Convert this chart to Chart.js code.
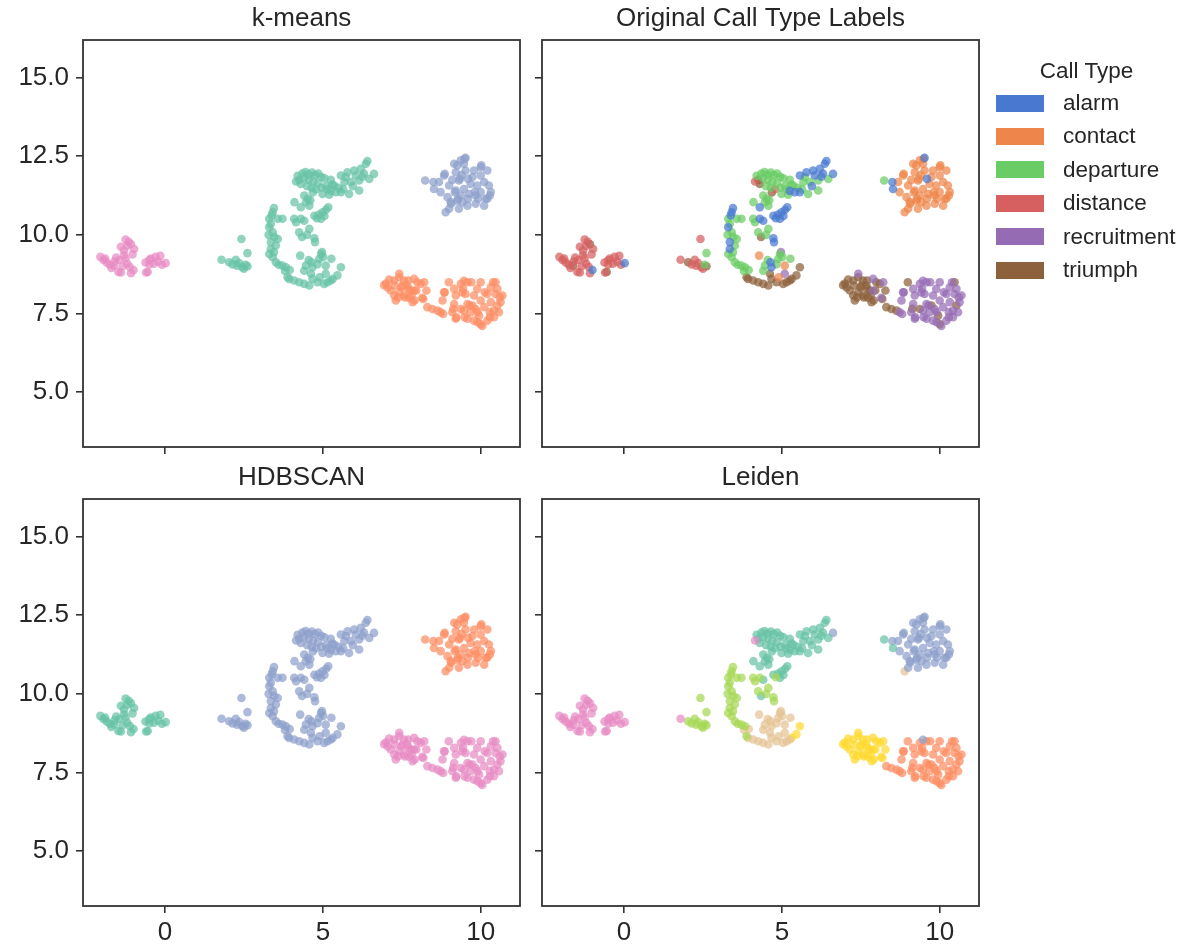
<!DOCTYPE html>
<html>
<head>
<meta charset="utf-8">
<script src="https://cdn.jsdelivr.net/npm/chart.js@4/dist/chart.umd.min.js"></script>
<style>
  body { margin: 0; width: 1188px; height: 952px; overflow: hidden; background: #fff; font-family: "Liberation Sans", Arial, sans-serif; }
  .panel { position: absolute; }
  #legend { position: absolute; left: 985px; top: 0; width: 203px; height: 300px; color: #262626; font-size: 22.5px; }
  #legend div { position: absolute; line-height: 26px; white-space: nowrap; }
</style>
</head>
<body>
<div class="panel" style="left:0;top:0"><canvas id="c0" width="530" height="492"></canvas></div>
<div class="panel" style="left:459px;top:0"><canvas id="c1" width="530" height="492"></canvas></div>
<div class="panel" style="left:0;top:459px"><canvas id="c2" width="530" height="492"></canvas></div>
<div class="panel" style="left:459px;top:459px"><canvas id="c3" width="530" height="492"></canvas></div>
<div id="legend"></div>
<script>
const callTypes = ["alarm", "contact", "departure", "distance", "recruitment", "triumph"];
const callCodes = ["a", "c", "d", "s", "r", "t"];
const callColors = ["#4878d0", "#ee854a", "#6acc64", "#d65f5f", "#956cb4", "#8c613c"];
const clusterColors = { teal: "#66c2a5", orange: "#fc8d62", blue: "#8da0cb", pink: "#e78ac3", lime: "#a6d854", yellow: "#ffd92f", tan: "#e5c494" };
const xTicks = [0, 5, 10];
const yTicks = [5.0, 7.5, 10.0, 12.5, 15.0];
const titles = ["k-means", "Original Call Type Labels", "HDBSCAN", "Leiden"];

// points: [x, y, call type code, leiden colour when it differs from the group]
const leftBlob = [
  [-2.05,9.30,"s"],[-1.95,9.20,"s"],[-1.90,9.25,"s"],[-1.85,9.12,"s"],[-1.75,9.05,"s"],[-1.70,8.95,"s"],
  [-1.62,9.02,"t"],[-1.60,9.15,"s"],[-1.55,9.28,"s"],[-1.48,8.82,"s"],[-1.45,9.20,"s"],[-1.40,9.62,"s"],
  [-1.40,8.80,"s"],[-1.35,9.00,"s"],[-1.30,9.50,"s"],[-1.30,9.35,"s"],[-1.25,9.85,"s"],[-1.25,9.25,"s"],
  [-1.20,9.65,"s"],[-1.20,9.08,"s"],[-1.15,9.78,"s"],[-1.12,8.98,"s"],[-1.08,9.70,"t"],[-1.08,8.78,"s"],
  [-1.03,9.38,"s"],[-1.00,8.88,"a"],[-0.98,9.55,"s"],[-0.62,9.12,"s"],[-0.60,8.80,"s"],[-0.55,8.82,"t"],
  [-0.50,9.20,"s"],[-0.50,9.06,"s"],[-0.45,9.25,"s"],[-0.35,9.08,"s"],[-0.30,9.30,"s"],[-0.22,9.15,"s"],
  [-0.15,9.33,"s"],[-0.10,9.05,"s"],[0.02,9.10,"a"]
];
const smallBlob = [
  [1.79,9.21,"s","pink"],[2.42,9.87,"s"],[2.61,9.42,"d"],[2.03,9.13,"t"],[2.24,9.21,"s"],[2.28,9.02,"s"],
  [2.45,8.97,"s"],[2.61,9.00,"t"],[2.14,9.06,"s"],[2.50,8.92,"s"],[2.35,9.10,"s"],[2.55,9.05,"d"]
];
const upperArm = [
  [4.15,11.70,"s","pink"],[4.25,11.75,"t"],[4.20,11.88,"d"],[4.35,11.95,"d"],[4.45,12.00,"d"],[4.55,11.92,"d"],
  [4.65,11.98,"d"],[4.75,11.90,"d"],[4.85,11.95,"d"],[4.95,11.85,"d"],[5.05,11.80,"d"],[4.40,11.80,"d"],
  [4.55,11.75,"d"],[4.70,11.70,"d"],[4.85,11.65,"d"],[4.30,11.62,"t"],[4.50,11.55,"d"],[4.65,11.50,"d"],
  [4.78,11.45,"s"],[4.68,11.35,"t"],[4.95,11.50,"d"],[5.15,11.45,"d"],[5.30,11.60,"d"],[5.25,11.75,"d"],
  [5.20,11.28,"d"],[4.99,11.30,"d"],[4.41,11.25,"d"],[4.52,11.15,"d"],[4.46,11.04,"d"],[4.10,11.04,"d"],
  [4.30,10.88,"a"],[4.57,10.93,"d"],[4.60,11.10,"d"],
  [5.36,11.57,"d"],[5.41,11.36,"a"],[5.57,11.36,"a"],[5.57,11.89,"a"],[5.68,11.68,"d"],[5.73,11.84,"d"],
  [5.78,11.99,"a"],[5.83,11.30,"d"],[5.89,11.68,"d"],[5.99,12.05,"a"],[6.04,11.89,"a"],[6.15,11.73,"d"],
  [6.15,11.41,"d"],[6.20,12.10,"a"],[6.30,11.95,"a"],[6.36,12.26,"a"],[6.41,12.35,"a"],[6.47,11.78,"d"],
  [6.62,11.94,"a","blue"],[5.50,11.50,"d"],[5.95,11.55,"a"],[6.25,11.85,"a"],[5.64,11.45,"d"],[5.10,11.55,"d"],
  [5.25,11.40,"a"],
  [4.73,10.61,"a"],[4.81,10.53,"a","lime"],[4.94,10.51,"a"],[4.99,10.72,"a"],[5.10,10.80,"a"],[5.17,10.88,"a"],
  [5.05,10.60,"a"],[4.88,10.65,"a"],[4.41,10.45,"a"],[4.34,9.93,"t"]
];
const leftArc = [
  [3.41,10.72,"a"],[3.30,10.51,"d"],[3.38,10.62,"a"],[3.30,10.24,"a"],[3.35,10.35,"d"],[3.41,10.08,"d"],
  [3.46,9.93,"d"],[3.35,9.77,"a"],[3.51,9.66,"d"],[3.35,9.55,"a"],[3.30,9.39,"d"],[3.41,9.29,"d"],
  [3.51,9.13,"d"],[3.45,9.45,"d"],[3.57,10.51,"d"],[3.72,10.51,"d"],[3.57,9.87,"d"],[3.60,9.05,"d"],
  [3.72,9.02,"d"],[3.83,8.97,"d"],[4.09,10.51,"d"],[4.15,10.40,"d"],[4.30,10.51,"a"],[4.25,10.08,"d"],
  [4.57,10.19,"d"],[4.73,9.89,"a"],[4.75,9.77,"a"],[4.50,10.00,"d"],[3.88,8.65,"t"],[3.45,10.85,"a"],
  [3.28,10.00,"d"]
];
const lowerArc = [
  [4.28,9.34,"c"],[4.94,9.39,"d"],[4.97,9.45,"r"],[4.88,9.23,"d"],[4.64,9.13,"a"],[4.46,9.02,"d"],
  [5.09,9.02,"c"],[4.67,8.97,"a"],[4.83,9.07,"d"],[4.41,8.86,"d"],[3.93,8.60,"t"],[4.09,8.55,"t"],
  [4.25,8.49,"t"],[4.41,8.44,"t"],[4.57,8.39,"t"],[4.67,8.60,"t"],[4.62,8.76,"t"],[4.83,8.49,"t"],
  [5.04,8.44,"t"],[5.15,8.49,"t"],[5.09,8.76,"r"],[4.90,8.65,"c"],[5.25,8.55,"t"],[3.80,8.85,"d"],
  [3.95,8.88,"d"],[5.01,9.30,"d"],[4.55,9.20,"d"],[5.27,9.24,"d"],
  [5.31,8.60,"t","yellow"],[5.46,8.71,"t","yellow"],[5.57,8.97,"t","yellow"]
];
const topRight = [
  [8.24,11.73,"d","teal"],[8.50,11.68,"a"],[8.52,11.46,"a","teal"],[9.52,12.45,"a"],[9.60,11.78,"a"],
  [8.89,10.72,"c","tan"],[8.68,11.68,"c"],[8.84,11.89,"c"],[9.00,11.57,"c"],[8.73,11.36,"c"],[8.95,11.20,"c"],
  [9.05,11.04,"c"],[9.00,10.83,"c"],[9.31,10.83,"c"],[9.58,10.93,"c"],[9.84,10.99,"c"],[10.11,10.93,"c"],
  [10.21,11.15,"c"],[10.32,11.36,"c"],[10.26,11.57,"c"],[10.11,11.68,"c"],[10.00,11.89,"c"],[10.21,12.05,"c"],
  [10.00,12.15,"c"],[9.79,12.05,"c"],[9.74,11.84,"c"],[9.89,11.57,"c"],[10.00,11.36,"c"],[9.84,11.25,"c"],
  [9.63,11.30,"c"],[9.47,11.46,"c"],[9.37,11.25,"c"],[9.26,11.09,"c"],[9.42,11.04,"c"],[9.21,11.41,"c"],
  [9.31,11.73,"c"],[9.21,11.99,"c"],[9.26,12.21,"c"],[9.37,12.37,"c"],[9.47,12.26,"c"],[9.16,12.26,"c"],
  [9.52,12.05,"c"],[9.68,11.62,"c"],[10.16,11.15,"c"],[8.86,11.94,"c"],[9.07,10.99,"c"],[9.34,11.78,"c"],
  [9.49,12.42,"c"],[9.18,11.36,"c"],[9.81,11.36,"c"],[10.29,11.25,"c"],[9.60,11.15,"c"],[9.28,11.15,"c"],
  [10.02,12.21,"c"],[9.92,11.15,"c"],[9.10,11.75,"c"],[9.40,11.90,"c"]
];
const bottomLeft = [
  [6.94,8.40,"t"],[7.05,8.33,"t"],[7.10,8.58,"t"],[7.15,8.23,"t"],[7.26,8.55,"t"],[7.26,8.07,"t"],
  [7.28,8.39,"t"],[7.31,7.91,"t"],[7.42,8.65,"t"],[7.42,8.76,"r"],[7.42,8.17,"t"],[7.49,8.33,"t"],
  [7.52,8.39,"t"],[7.57,8.55,"t"],[7.57,8.07,"t"],[7.68,8.39,"t"],[7.70,8.55,"t"],[7.70,8.28,"t"],
  [7.73,8.00,"t"],[7.78,8.23,"t"],[7.81,8.07,"t"],[7.84,7.86,"t"],[7.89,8.60,"r"],[7.89,8.23,"r"],
  [7.91,7.91,"t"],[7.96,8.23,"t"],[7.99,8.49,"t"],[8.10,8.44,"t"],[8.15,8.00,"r"],[8.18,7.96,"t"],
  [8.21,8.49,"r"],[8.28,8.23,"t"],[7.60,8.01,"t"],[7.38,8.01,"t"],[7.00,8.45,"t"]
];
const bottomRight = [
  [8.31,7.70,"t"],[8.47,7.64,"t"],[8.63,7.59,"t"],[8.73,7.54,"r"],[8.79,7.91,"r"],[8.84,8.17,"r"],
  [8.99,8.49,"t"],[8.81,7.48,"r"],[8.86,8.17,"r"],
  [9.16,8.28,"r"],[9.21,8.07,"r"],[9.16,7.80,"r"],[9.10,7.54,"r"],[9.21,7.33,"r"],[9.42,8.17,"r"],
  [9.37,8.44,"r"],[9.47,8.54,"r","blue"],[9.58,8.49,"r"],[9.52,8.12,"r"],[9.58,7.33,"r"],[9.79,7.27,"r"],
  [9.90,7.22,"r"],[10.05,7.10,"r"],[10.21,7.27,"r"],[10.42,7.38,"r"],[10.58,7.54,"r"],[10.63,7.86,"r"],
  [10.69,8.07,"r"],[10.53,8.28,"r"],[10.47,8.49,"t"],[10.32,8.33,"r"],[10.00,8.49,"r"],[9.89,8.28,"r"],
  [10.21,8.12,"r"],[10.32,7.86,"r"],[10.11,7.70,"r"],[10.00,7.91,"r"],[9.79,8.07,"r"],[9.84,7.64,"r"],
  [9.68,7.54,"r"],[9.47,7.59,"r"],[9.37,7.64,"t"],[9.58,7.80,"r"],[9.74,7.75,"t"],[9.90,7.54,"r"],
  [9.95,7.43,"t"],[10.42,7.59,"r"],[10.53,7.75,"t"],[10.47,8.12,"r"],[10.00,7.16,"t"],[9.23,7.38,"r"],
  [9.49,7.38,"r"],[10.29,7.38,"r"],[10.60,8.01,"r"],[10.39,8.49,"r"],[9.70,8.49,"r"],[9.44,8.28,"r"],
  [9.13,7.65,"t"],[9.65,7.75,"r"],[10.29,7.54,"r"],[10.13,8.17,"r"]
];

const groups = { leftBlob, smallBlob, upperArm, leftArc, lowerArc, topRight, bottomLeft, bottomRight };
const kmeans = { leftBlob: "pink", smallBlob: "teal", upperArm: "teal", leftArc: "teal", lowerArc: "teal", topRight: "blue", bottomLeft: "orange", bottomRight: "orange" };
const hdbscan = { leftBlob: "teal", smallBlob: "blue", upperArm: "blue", leftArc: "blue", lowerArc: "blue", topRight: "orange", bottomLeft: "pink", bottomRight: "pink" };
const leiden = { leftBlob: "pink", smallBlob: "lime", upperArm: "teal", leftArc: "lime", lowerArc: "tan", topRight: "blue", bottomLeft: "yellow", bottomRight: "orange" };

const fontFamily = "'Liberation Sans', Arial, sans-serif";
const ink = "#262626";
const spine = "#333333";

function rgba(hex, a) {
  const n = parseInt(hex.slice(1), 16);
  return "rgba(" + (n >> 16) + "," + ((n >> 8) & 255) + "," + (n & 255) + "," + a + ")";
}

const colourBy = [
  (pt, g) => clusterColors[kmeans[g]],
  (pt, g) => callColors[callCodes.indexOf(pt[2])],
  (pt, g) => clusterColors[hdbscan[g]],
  (pt, g) => clusterColors[pt[3] || leiden[g]]
];

// full box round the plot, like matplotlib spines
const frame = {
  id: "frame",
  afterDatasetsDraw(chart) {
    const a = chart.chartArea, ctx = chart.ctx;
    ctx.save();
    ctx.strokeStyle = spine;
    ctx.lineWidth = 1.8;
    ctx.strokeRect(a.left, a.top, a.right - a.left, a.bottom - a.top);
    ctx.restore();
  }
};

for (let i = 0; i < 4; i++) {
  const showX = i >= 2;
  const showY = i % 2 === 0;
  const buckets = new Map();
  if (i === 1) callColors.forEach(c => buckets.set(c, []));
  Object.entries(groups).forEach(([name, pts]) => {
    pts.forEach(pt => {
      const col = colourBy[i](pt, name);
      if (!buckets.has(col)) buckets.set(col, []);
      buckets.get(col).push({ x: pt[0], y: pt[1] });
    });
  });
  const datasets = [...buckets].map(([col, data]) => ({
    data: data,
    backgroundColor: rgba(col, 0.72),
    borderWidth: 0,
    pointRadius: 4.3,
    pointHoverRadius: 4.3
  }));

  new Chart(document.getElementById("c" + i), {
    type: "scatter",
    data: { datasets: datasets },
    plugins: [frame],
    options: {
      responsive: false,
      animation: false,
      devicePixelRatio: 1,
      layout: { padding: { top: 0, right: 10, bottom: 0, left: 0 }, autoPadding: false },
      plugins: {
        legend: { display: false },
        tooltip: { enabled: false },
        title: {
          display: true,
          text: titles[i],
          fullSize: false,
          color: ink,
          font: { size: 26, family: fontFamily, weight: "normal" },
          padding: { top: 3, bottom: 5.8 }
        }
      },
      scales: {
        x: {
          type: "linear",
          min: -2.6,
          max: 11.245,
          afterBuildTicks: s => { s.ticks = xTicks.map(v => ({ value: v })); },
          afterFit: s => { s.height = 45; },
          border: { display: false },
          grid: { drawOnChartArea: false, drawTicks: true, tickLength: 7, color: spine, lineWidth: 1.6 },
          ticks: { display: showX, padding: 4, color: ink, maxRotation: 0, font: { size: 26, family: fontFamily } }
        },
        y: {
          type: "linear",
          min: 3.25,
          max: 16.2,
          afterBuildTicks: s => { s.ticks = yTicks.map(v => ({ value: v })); },
          afterFit: s => { s.width = 83; },
          border: { display: false },
          grid: { drawOnChartArea: false, drawTicks: true, tickLength: 7, color: spine, lineWidth: 1.6 },
          ticks: { display: showY, padding: 7, color: ink, font: { size: 26, family: fontFamily }, callback: v => v.toFixed(1) }
        }
      }
    }
  });
}

// legend for the call types
const legend = document.getElementById("legend");
const head = document.createElement("div");
head.textContent = "Call Type";
head.style.left = "0px";
head.style.width = "203px";
head.style.textAlign = "center";
head.style.top = "58px";
legend.appendChild(head);
callTypes.forEach((name, k) => {
  const mid = 103 + 33.4 * k;
  const patch = document.createElement("div");
  patch.style.left = "11px";
  patch.style.top = (mid - 8.5) + "px";
  patch.style.width = "48px";
  patch.style.height = "17px";
  patch.style.background = callColors[k];
  legend.appendChild(patch);
  const label = document.createElement("div");
  label.textContent = name;
  label.style.left = "78px";
  label.style.top = (mid - 13) + "px";
  legend.appendChild(label);
});
</script>
</body>
</html>
